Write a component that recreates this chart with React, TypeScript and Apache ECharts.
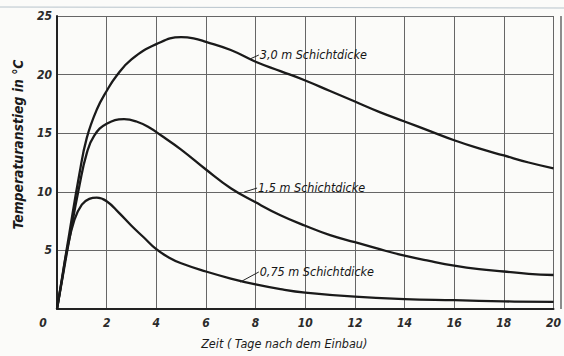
import React, { useEffect, useRef } from "react";
import * as echarts from "echarts";

const xTicks = [0, 2, 4, 6, 8, 10, 12, 14, 16, 18, 20];
const yTicks = [0, 5, 10, 15, 20, 25];

const curve30: [number, number][] = [
  [0, 0], [0.5, 6.5], [0.9, 11.5], [1.2, 14.6], [1.6, 17], [2, 18.6], [2.4, 19.9], [3, 21.3],
  [4, 22.6], [5, 23.2], [5.5, 23.1], [6, 22.8], [7, 22.1], [8, 21.1], [9, 20.3], [10, 19.5],
  [11, 18.6], [12, 17.7], [13, 16.8], [14, 16], [15, 15.2], [16, 14.4], [17, 13.7],
  [18, 13.1], [19, 12.5], [20, 12],
];
const curve15: [number, number][] = [
  [0, 0], [0.5, 6], [0.9, 10.5], [1.2, 13.3], [1.5, 14.8], [2, 15.8], [2.7, 16.2], [3.2, 16],
  [3.7, 15.5], [4.2, 14.8], [5, 13.6], [6, 11.9], [7, 10.3], [8, 9.1], [9, 8], [10, 7.1], [11, 6.3],
  [12, 5.7], [13, 5.1], [14, 4.55], [15, 4.1], [16, 3.7], [17, 3.4], [18, 3.2], [19, 3], [20, 2.9],
];
const curve075: [number, number][] = [
  [0, 0], [0.2, 2.5], [0.4, 5], [0.7, 7.6], [1, 8.9], [1.3, 9.4], [1.6, 9.5], [2, 9.2],
  [2.5, 8.2], [3, 7.1], [3.5, 6.1], [4, 5.1], [4.5, 4.4], [5, 3.9], [6, 3.2], [7, 2.6], [8, 2.1],
  [9, 1.7], [10, 1.4], [12, 1.05], [14, 0.85], [16, 0.75], [18, 0.65], [20, 0.6],
];

const seriesNames = ["3,0 m Schichtdicke", "1,5 m Schichtdicke", "0,75 m Schichtdicke"];
// leader lines: from point on curve to start of label
const leaderFrom: [number, number][] = [[7.74, 21.3], [7.54, 9.98], [7.38, 2.3]];
const leaderTo: [number, number][] = [[8.13, 21.67], [8.06, 10.32], [8.13, 3.16]];

const FONT = "'DejaVu Sans Condensed', 'DejaVu Sans', sans-serif";

export default function App() {
  const ref = useRef<HTMLDivElement>(null);
  useEffect(() => {
    document.body.style.margin = "0";
    if (!ref.current) return;
    const chart = echarts.init(ref.current, undefined, { renderer: "svg" });
    const lineStyle = { color: "#1a1a1a", width: 2.3 };
    const mkSeries = (i: number, data: [number, number][]) => ({
      name: seriesNames[i],
      type: "line",
      data,
      smooth: 0.45,
      showSymbol: false,
      symbol: "none",
      lineStyle,
      markLine: {
        silent: true,
        symbol: "none",
        lineStyle: { color: "#222", width: 1, type: "solid" },
        label: {
          show: true,
          position: "end",
          distance: 1,
          padding: [6, 0, 0, 0],
          formatter: seriesNames[i],
          color: "#151515",
          fontFamily: FONT,
          fontStyle: "italic",
          fontSize: 12.5,
        },
        data: [[{ coord: leaderFrom[i] }, { coord: leaderTo[i] }]],
      },
    });
    chart.setOption({
      animation: false,
      backgroundColor: "#fbfbf9",
      grid: { left: 57, top: 16, width: 504, height: 293, containLabel: false },
      xAxis: {
        type: "value",
        min: 0,
        max: 20,
        interval: 2,
        name: "Zeit ( Tage nach dem Einbau)",
        nameLocation: "middle",
        nameGap: 28,
        nameTextStyle: {
          fontFamily: FONT,
          fontStyle: "italic",
          fontSize: 12.5,
          color: "#1a1a1a",
          padding: [0, 42, 0, 0],
        },
        axisLine: { show: true, lineStyle: { color: "#222", width: 2 } },
        axisTick: { show: false },
        splitLine: { show: true, lineStyle: { color: "#666", width: 1 } },
        axisLabel: {
          margin: 8,
          fontFamily: FONT,
          fontStyle: "italic",
          fontWeight: "bold",
          fontSize: 12,
          color: "#2a2a2a",
          formatter: (v: number) => (v === 0 ? "{z|0}" : String(xTicks.includes(v) ? v : "")),
          rich: { z: { padding: [0, 28, 0, 0], fontFamily: FONT, fontStyle: "italic", fontWeight: "bold", fontSize: 12, color: "#2a2a2a" } },
        },
      },
      yAxis: {
        type: "value",
        min: 0,
        max: 25,
        interval: 5,
        name: "Temperaturanstieg in °C",
        nameLocation: "middle",
        nameGap: 32,
        nameTextStyle: {
          fontFamily: FONT,
          fontStyle: "italic",
          fontWeight: "bold",
          fontSize: 13.8,
          color: "#1a1a1a",
          padding: [0, 0, 0, 36],
        },
        axisLine: { show: true, lineStyle: { color: "#222", width: 2 } },
        axisTick: { show: false },
        splitLine: { show: true, lineStyle: { color: "#666", width: 1 } },
        axisLabel: {
          margin: 5,
          fontFamily: FONT,
          fontStyle: "italic",
          fontWeight: "bold",
          fontSize: 12,
          color: "#2a2a2a",
          formatter: (v: number) => (v === 0 ? "" : String(yTicks.includes(v) ? v : "")),
        },
      },
      series: [mkSeries(0, curve30), mkSeries(1, curve15), mkSeries(2, curve075)],
      graphic: [
        { type: "line", shape: { x1: 0, y1: 7, x2: 564, y2: 8 }, style: { stroke: "#b8c4cc", lineWidth: 1 }, silent: true },
        { type: "line", shape: { x1: 561, y1: 16, x2: 561, y2: 309 }, style: { stroke: "#444", lineWidth: 1.2 }, silent: true },
      ],
    });
    return () => chart.dispose();
  }, []);
  return <div ref={ref} style={{ width: 564, height: 356 }} />;
}
